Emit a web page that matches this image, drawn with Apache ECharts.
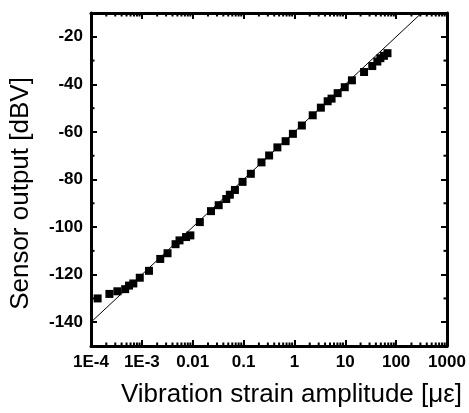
<!DOCTYPE html>
<html>
<head>
<meta charset="utf-8">
<script src="https://cdn.jsdelivr.net/npm/echarts@6/dist/echarts.min.js"></script>
<style>html,body{margin:0;padding:0;background:#fff}#c{width:469px;height:413px}</style>
</head>
<body>
<div id="c"></div>
<script>
// Measured data: strain amplitude (microstrain) vs sensor output (dBV)
var strain = [1.35e-4, 2.3e-4, 3.3e-4, 4.7e-4, 5.6e-4, 6.8e-4, 9.1e-4, 1.38e-3, 2.3e-3, 3.2e-3,
  4.6e-3, 5.5e-3, 7.4e-3, 9.0e-3, 0.0138, 0.0229, 0.0324, 0.0457, 0.0537, 0.0676, 0.0955,
  0.139, 0.225, 0.318, 0.462, 0.671, 0.933, 1.40, 2.29, 3.31, 4.50, 5.37, 7.08, 9.77, 13.5,
  23.4, 33.9, 42.7, 49.0, 57.5, 67.6];
var output = [-130.0, -128.1, -127.0, -126.1, -124.6, -123.7, -121.3, -118.4, -113.4, -111.0,
  -107.2, -105.6, -104.2, -103.5, -97.9, -93.3, -90.8, -88.2, -86.4, -84.4, -81.0,
  -77.6, -72.8, -69.9, -66.5, -63.9, -60.8, -57.3, -53.0, -49.8, -47.1, -46.0, -43.7, -41.2, -38.3,
  -34.8, -32.3, -30.4, -29.0, -28.0, -26.9];
// Reference (fit) line end points
var lineX = [7.4e-5, 316];
var lineY = [-142.6, -10];
// Axis tick labels
var xTickLabels = ['1E-4', '1E-3', '0.01', '0.1', '1', '10', '100', '1000'];
var xMinExp = -4, xMaxExp = 3;
var yMin = -150, yMax = -10;
var yMinorTicks = [-130, -110, -90, -70, -50, -30];
var xMinorMult = [2, 3, 4, 5, 6, 7, 8, 9];

var xMin = Math.pow(10, xMinExp), xMax = Math.pow(10, xMaxExp);
var xMinorTicks = [];
for (var e = xMinExp; e < xMaxExp; e++) {
  for (var k = 0; k < xMinorMult.length; k++) xMinorTicks.push(xMinorMult[k] * Math.pow(10, e));
}

var FONT = 'Arial, "Liberation Sans", Helvetica, sans-serif';
var scatterData = strain.map(function (x, i) { return [x, output[i]]; });
var lineData = lineX.map(function (x, i) { return [x, lineY[i]]; });

var axLine = { show: true, lineStyle: { color: '#000', width: 3 } };
var axTick = { show: true, inside: true, length: 6, lineStyle: { color: '#000', width: 2 } };

var chart = echarts.init(document.getElementById('c'), null, { renderer: 'canvas' });
chart.setOption({
  animation: false,
  backgroundColor: '#fff',
  grid: { left: 89, right: 22, top: 13, bottom: 57, containLabel: false },
  xAxis: [{
    type: 'log', logBase: 10, min: xMin, max: xMax, position: 'bottom',
    axisLine: axLine, axisTick: axTick, splitLine: { show: false },
    axisLabel: {
      margin: 8, color: '#000', fontSize: 17, fontWeight: 'bold', fontFamily: FONT,
      formatter: function (v) { var i = Math.round(Math.log10(v)) - xMinExp; return xTickLabels[i] || ''; }
    },
    name: 'Vibration strain amplitude [\u03bc\u03b5]', nameLocation: 'middle', nameGap: 36,
    nameTextStyle: { color: '#000', fontSize: 26, fontFamily: FONT, padding: [0, 0, 0, 45] }
  }, {
    type: 'log', logBase: 10, min: xMin, max: xMax, position: 'top',
    axisLine: axLine, axisTick: axTick, axisLabel: { show: false }, splitLine: { show: false }
  }],
  yAxis: [{
    type: 'value', min: yMin, max: yMax, splitNumber: 7, position: 'left',
    axisLine: axLine, axisTick: axTick, splitLine: { show: false },
    axisLabel: {
      margin: 8, color: '#000', fontSize: 17, fontWeight: 'bold', fontFamily: FONT,
      showMinLabel: false, showMaxLabel: false,
      formatter: function (v) { return (v % 20 === 0 && v !== yMin && v !== yMax) ? String(v) : ''; }
    },
    name: 'Sensor output [dBV]', nameLocation: 'middle', nameGap: 57,
    nameTextStyle: { color: '#000', fontSize: 26, fontFamily: FONT, padding: [0, 28, 0, 0] }
  }, {
    type: 'value', min: yMin, max: yMax, splitNumber: 7, position: 'right',
    axisLine: axLine, axisTick: axTick, axisLabel: { show: false }, splitLine: { show: false }
  }],
  series: [{
    type: 'line', data: lineData, xAxisIndex: 0, yAxisIndex: 0, clip: false,
    showSymbol: false, symbol: 'none', lineStyle: { color: '#000', width: 1 }, z: 2
  }, {
    type: 'scatter', data: scatterData, xAxisIndex: 0, yAxisIndex: 0,
    symbol: 'rect', symbolSize: 8, itemStyle: { color: '#000', opacity: 1 }, z: 3
  }, {
    type: 'custom', xAxisIndex: 0, yAxisIndex: 0, clip: false, silent: true, z: 4,
    data: xMinorTicks.map(function (v) { return [v, yMin]; }),
    renderItem: function (params, api) {
      var b = api.coord([api.value(0), yMin]);
      var t = api.coord([api.value(0), yMax]);
      var st = { stroke: '#000', lineWidth: 2 };
      return { type: 'group', children: [
        { type: 'line', shape: { x1: b[0], y1: b[1], x2: b[0], y2: b[1] - 3.5 }, style: st },
        { type: 'line', shape: { x1: t[0], y1: t[1], x2: t[0], y2: t[1] + 3.5 }, style: st }
      ] };
    }
  }, {
    type: 'custom', xAxisIndex: 0, yAxisIndex: 0, clip: false, silent: true, z: 4,
    data: yMinorTicks.map(function (v) { return [xMin, v]; }),
    renderItem: function (params, api) {
      var l = api.coord([xMin, api.value(1)]);
      var r = api.coord([xMax, api.value(1)]);
      var st = { stroke: '#000', lineWidth: 2 };
      return { type: 'group', children: [
        { type: 'line', shape: { x1: l[0], y1: l[1], x2: l[0] + 3.5, y2: l[1] }, style: st },
        { type: 'line', shape: { x1: r[0], y1: r[1], x2: r[0] - 3.5, y2: r[1] }, style: st }
      ] };
    }
  }]
});
</script>
</body>
</html>
